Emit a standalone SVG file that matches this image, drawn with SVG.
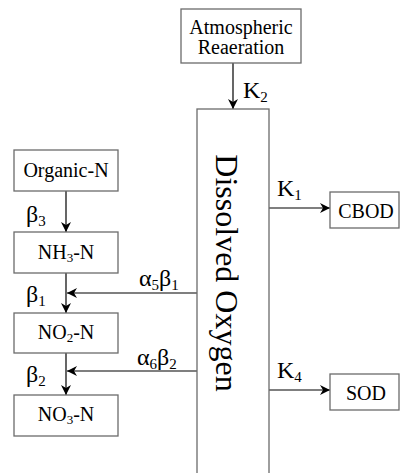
<svg xmlns="http://www.w3.org/2000/svg" width="401" height="473" viewBox="0 0 401 473">
<style>
text{font-family:"Liberation Serif","DejaVu Serif",serif;fill:#000}
.box{fill:#fff;stroke:#6b6b6b;stroke-width:1.3}
.t{font-size:20px}
.lbl{font-size:24px}
.c{stroke:#000;stroke-width:1.2;fill:none;marker-end:url(#ah)}
</style>
<defs>
<marker id="ah" viewBox="0 0 10 10" refX="10" refY="5" markerWidth="10" markerHeight="10" markerUnits="userSpaceOnUse" orient="auto">
<path d="M0,0 L10,5 L0,10 L3,5 z" fill="#000"/>
</marker>
</defs>
<rect width="401" height="473" fill="#fff"/>
<g id="connectors">
<line class="c" x1="233" y1="63" x2="233" y2="109"/>
<line class="c" x1="66" y1="191" x2="66" y2="232"/>
<line class="c" x1="66" y1="273" x2="66" y2="313"/>
<line class="c" x1="66" y1="353" x2="66" y2="395"/>
<line class="c" x1="197" y1="293" x2="67" y2="293"/>
<line class="c" x1="197" y1="371" x2="67" y2="371"/>
<line class="c" x1="269" y1="208" x2="330" y2="208"/>
<line class="c" x1="269" y1="390" x2="330" y2="390"/>
</g>
<g id="labels">
<text class="lbl" x="243" y="98">K<tspan font-size="15" dy="4">2</tspan></text>
<text class="lbl" x="277" y="196">K<tspan font-size="15" dy="4">1</tspan></text>
<text class="lbl" x="277" y="378">K<tspan font-size="15" dy="4">4</tspan></text>
<text class="lbl" x="26" y="222">β<tspan font-size="15" dy="4">3</tspan></text>
<text class="lbl" x="26" y="302">β<tspan font-size="15" dy="4">1</tspan></text>
<text class="lbl" x="26" y="382">β<tspan font-size="15" dy="4">2</tspan></text>
<text class="lbl" x="139" y="286">α<tspan font-size="15" dy="4">5</tspan><tspan dy="-4">β</tspan><tspan font-size="15" dy="4">1</tspan></text>
<text class="lbl" x="137" y="365">α<tspan font-size="15" dy="4">6</tspan><tspan dy="-4">β</tspan><tspan font-size="15" dy="4">2</tspan></text>
</g>
<g id="atmospheric">
<rect class="box" x="181" y="9" width="120" height="54"/>
<text class="t" x="241" y="34" text-anchor="middle">Atmospheric</text>
<text class="t" x="241" y="54" text-anchor="middle">Reaeration</text>
</g>
<g id="dissolved-oxygen">
<rect class="box" x="197" y="109" width="72" height="370"/>
<text transform="translate(216,273) rotate(90)" text-anchor="middle" style="font-size:32px">Dissolved Oxygen</text>
</g>
<g id="organic-n">
<rect class="box" x="14" y="150" width="104" height="41"/>
<text class="t" x="66" y="177" text-anchor="middle">Organic-N</text>
</g>
<g id="nh3-n">
<rect class="box" x="14" y="232" width="104" height="41"/>
<text class="t" x="66" y="259" text-anchor="middle">NH<tspan font-size="13" dy="3">3</tspan><tspan dy="-3">-N</tspan></text>
</g>
<g id="no2-n">
<rect class="box" x="14" y="313" width="104" height="40"/>
<text class="t" x="66" y="339" text-anchor="middle">NO<tspan font-size="13" dy="3">2</tspan><tspan dy="-3">-N</tspan></text>
</g>
<g id="no3-n">
<rect class="box" x="14" y="395" width="104" height="41"/>
<text class="t" x="66" y="421" text-anchor="middle">NO<tspan font-size="13" dy="3">3</tspan><tspan dy="-3">-N</tspan></text>
</g>
<g id="cbod">
<rect class="box" x="330" y="192" width="69" height="36"/>
<text class="t" x="366" y="218" text-anchor="middle">CBOD</text>
</g>
<g id="sod">
<rect class="box" x="330" y="374" width="69" height="36"/>
<text class="t" x="366" y="400" text-anchor="middle">SOD</text>
</g>
</svg>
